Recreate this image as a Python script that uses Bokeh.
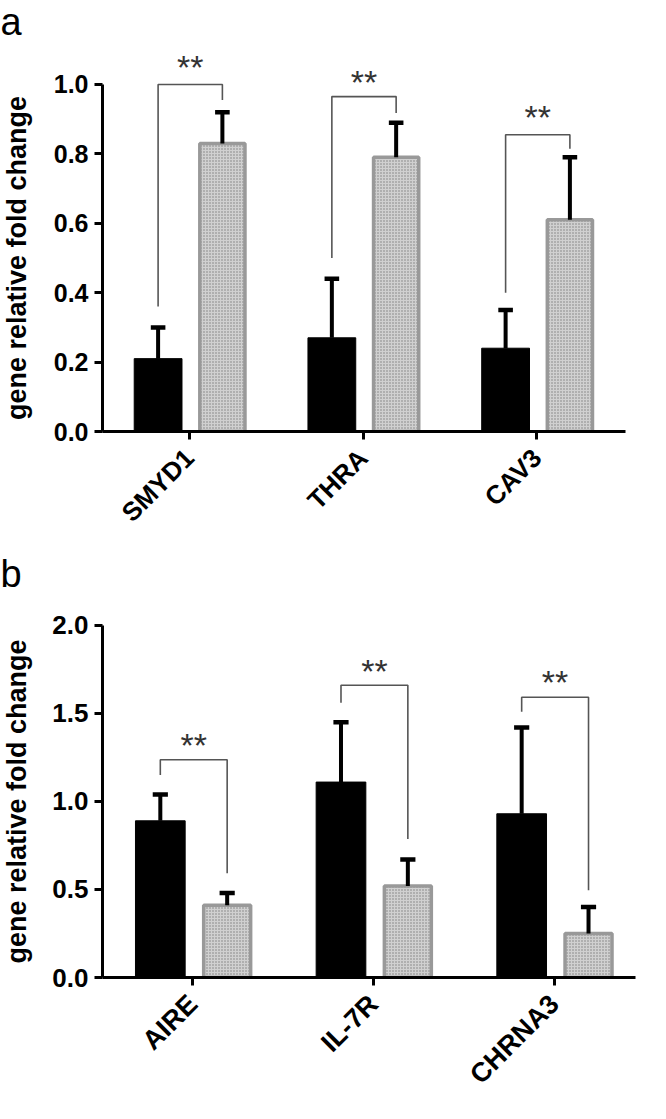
import math
import numpy as np
from bokeh.plotting import figure
from bokeh.layouts import column, row
from bokeh.models import Range1d, FixedTicker, PrintfTickFormatter
from bokeh.core.properties import value
from bokeh.embed import file_html
from bokeh.resources import INLINE

FONT = "Liberation Sans"

# ---------------- data: panel a ----------------
genes_a = ["SMYD1", "THRA", "CAV3"]
ctrl_a = [0.21, 0.27, 0.24]
ctrl_top_a = [0.30, 0.44, 0.35]
treat_a = [0.83, 0.79, 0.61]
treat_top_a = [0.92, 0.89, 0.79]
br_left_a = [0.36, 0.50, 0.40]
br_top_a = [1.0, 0.965, 0.855]
br_right_a = [0.955, 0.918, 0.815]
star_a = [1.077, 1.034, 0.933]
sig_a = ["**", "**", "**"]
yticks_a = [0.0, 0.2, 0.4, 0.6, 0.8, 1.0]

# ---------------- data: panel b ----------------
genes_b = ["AIRE", "IL-7R", "CHRNA3"]
ctrl_b = [0.89, 1.11, 0.93]
ctrl_top_b = [1.04, 1.45, 1.42]
treat_b = [0.41, 0.52, 0.25]
treat_top_b = [0.48, 0.67, 0.40]
br_left_b = [1.15, 1.56, 1.51]
br_top_b = [1.237, 1.66, 1.592]
br_right_b = [0.592, 0.786, 0.495]
star_b = [1.37, 1.79, 1.728]
sig_b = ["**", "**", "**"]
yticks_b = [0.0, 0.5, 1.0, 1.5, 2.0]

Y_LABEL = "gene relative fold change"


def make_panel(letter, genes, ctrl, ctrl_top, treat, treat_top, brl, brt, brr,
               star, sig, yticks, height, y_end, x_end, mb_right, mb_bottom,
               ylab_size, tick_size, xlab_size):
    yr = Range1d(0, y_end)
    p = figure(width=610, height=height, output_backend="svg", toolbar_location=None,
               x_range=Range1d(-0.5, x_end), y_range=yr,
               min_border_left=62, min_border_right=mb_right,
               min_border_top=0, min_border_bottom=mb_bottom)
    p.outline_line_color = None
    p.xgrid.visible = False
    p.ygrid.visible = False

    idx = np.arange(len(genes))
    xc = idx - 0.18
    xt = idx + 0.19
    bw = 0.275
    cap = 0.042

    # bars
    p.vbar(x=xc, top=ctrl, bottom=0, width=bw, fill_color="black", line_color="black", line_width=1)
    p.vbar(x=xt, top=treat, bottom=0, width=bw - 0.015, fill_color="#d0d0d0",
           line_color="#999999", line_width=3.5,
           hatch_pattern="dot", hatch_color="#7c7c7c", hatch_scale=3, hatch_weight=1.5)

    # error bars (upper only)
    for xs, lo, hi in ((xc, ctrl, ctrl_top), (xt, treat, treat_top)):
        p.segment(x0=xs, y0=lo, x1=xs, y1=hi, line_color="black", line_width=4)
        p.segment(x0=xs - cap, y0=hi, x1=xs + cap, y1=hi, line_color="black", line_width=4.5)

    # significance brackets
    bx = [[a, a, b, b] for a, b in zip(xc, xt)]
    by = [[l, t, t, r] for l, t, r in zip(brl, brt, brr)]
    p.multi_line(xs=bx, ys=by, line_color="#555555", line_width=1.6)
    p.text(x=(xc + xt) / 2, y=star, text=sig, text_align="center", text_baseline="middle",
           text_font=value(FONT), text_font_size="34px", text_color="#333333", y_offset=9)

    # axes
    xa = p.xaxis[0]
    xa.ticker = FixedTicker(ticks=list(idx))
    xa.major_label_overrides = {int(i): g for i, g in zip(idx, genes)}
    xa.major_label_orientation = math.pi / 4
    ya = p.yaxis[0]
    ya.ticker = FixedTicker(ticks=yticks)
    ya.formatter = PrintfTickFormatter(format="%.1f")
    ya.bounds = (0, yticks[-1])
    for ax in (xa, ya):
        ax.axis_line_width = 3
        ax.axis_line_color = "black"
        ax.major_tick_line_width = 3
        ax.major_tick_line_color = "black"
        ax.major_tick_out = 8
        ax.major_tick_in = 0
        ax.minor_tick_line_color = None
        ax.major_label_text_font = FONT
        ax.major_label_text_font_style = "bold"
        ax.major_label_text_color = "black"
    ya.major_label_text_font_size = tick_size
    ya.major_label_standoff = 6
    xa.major_label_text_font_size = xlab_size
    xa.major_label_standoff = 14

    # left strip: panel letter and y-axis title, sharing the y scale
    s = figure(width=40, height=height, output_backend="svg", toolbar_location=None,
               x_range=Range1d(0, 1), y_range=yr,
               min_border_left=0, min_border_right=0,
               min_border_top=0, min_border_bottom=mb_bottom)
    s.axis.visible = False
    s.grid.visible = False
    s.outline_line_color = None
    s.text(x=[0.4], y=[yticks[-1] / 2], text=[Y_LABEL], angle=math.pi / 2,
           text_align="center", text_baseline="middle",
           text_font=value(FONT), text_font_style="bold", text_font_size=ylab_size,
           text_color="black")
    s.text(x=[0.0], y=[y_end], text=[letter], text_align="left", text_baseline="top",
           text_font=value(FONT), text_font_size="38px", text_color="black")
    return row(s, p, spacing=0)


pa = make_panel("a", genes_a, ctrl_a, ctrl_top_a, treat_a, treat_top_a,
                br_left_a, br_top_a, br_right_a, star_a, sig_a, yticks_a,
                height=552, y_end=1.242, x_end=2.51, mb_right=25, mb_bottom=121,
                ylab_size="27px", tick_size="25px", xlab_size="26px")
pb = make_panel("b", genes_b, ctrl_b, ctrl_top_b, treat_b, treat_top_b,
                br_left_b, br_top_b, br_right_b, star_b, sig_b, yticks_b,
                height=551, y_end=2.414, x_end=2.45, mb_right=15, mb_bottom=108,
                ylab_size="27px", tick_size="26px", xlab_size="27px")

layout = column(pa, pb, spacing=0)
open("out.html", "w").write(file_html(layout, INLINE))
